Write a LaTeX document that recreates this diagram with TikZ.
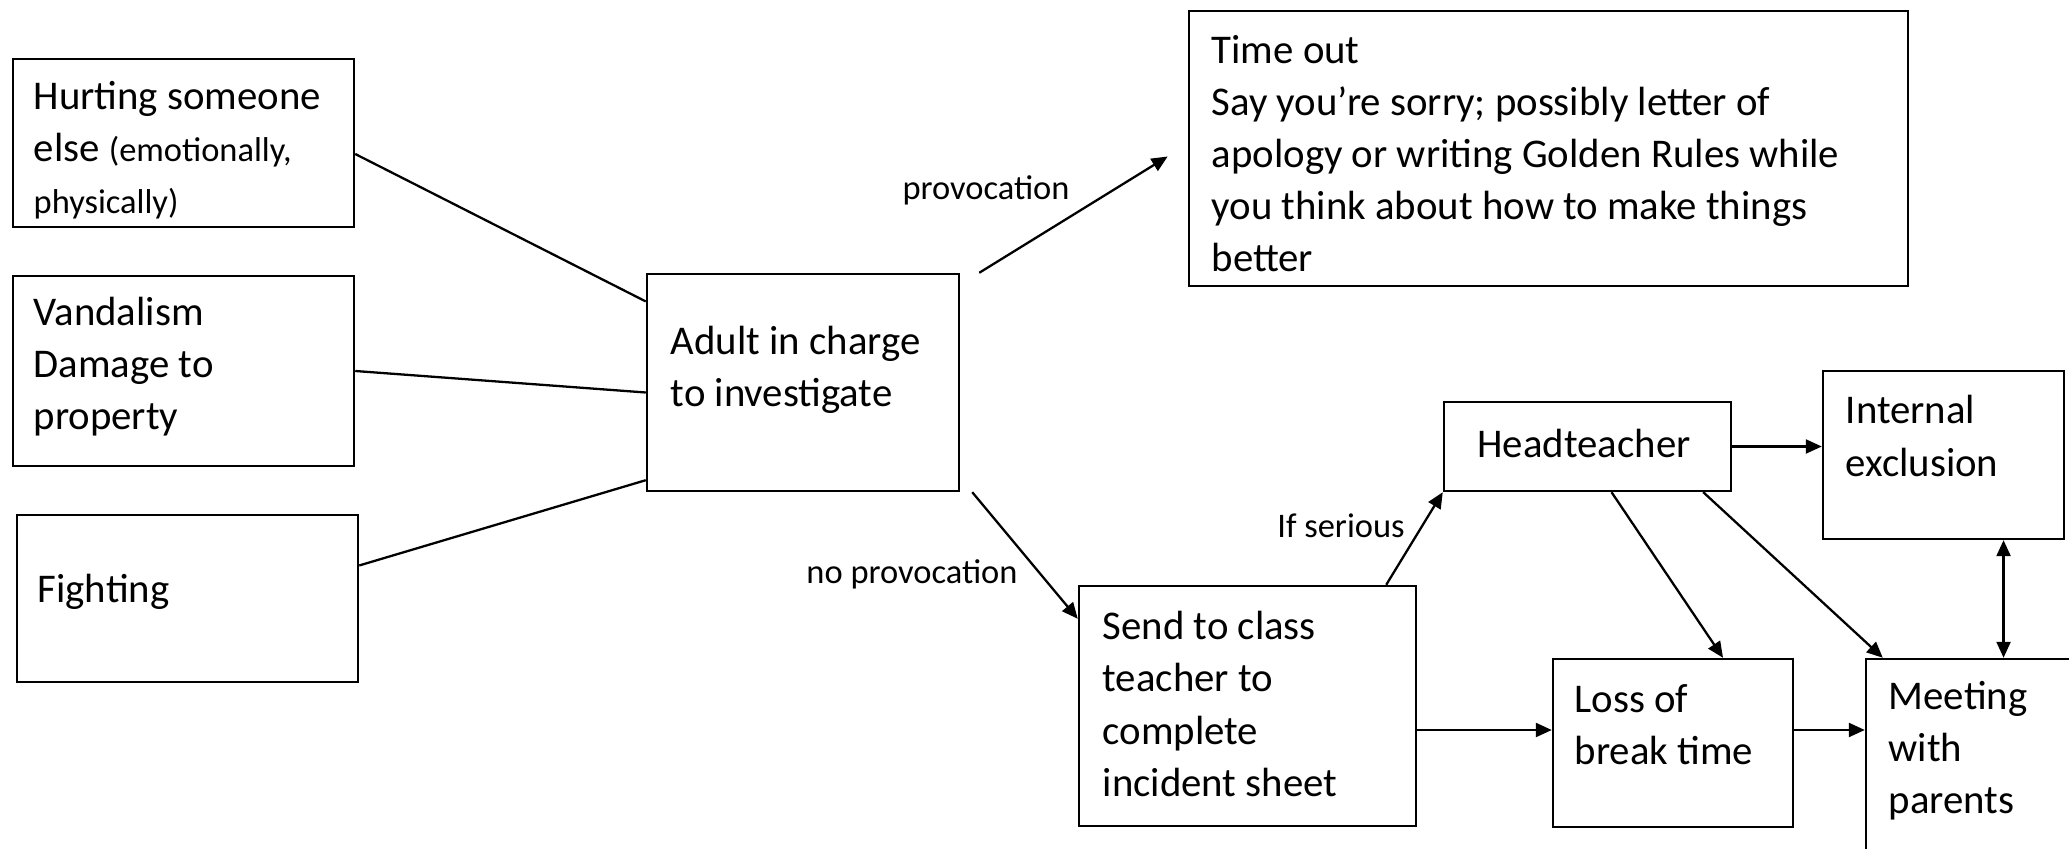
\documentclass[tikz,border=0pt]{standalone}
\usepackage{fontspec}
\setmainfont{Carlito}
\usetikzlibrary{arrows.meta}

\tikzset{
  box/.style={draw, line width=0.65pt, inner sep=0pt},
  txt/.style={align=left, inner sep=0pt, anchor=west, font=\fontsize{11.6}{14.8}\selectfont},
  lbl/.style={inner sep=0pt, font=\fontsize{9.8}{12}\selectfont},
  link/.style={line width=0.65pt},
  arr/.style={line width=0.65pt, -{Triangle[length=0.16cm, width=0.14cm]}},
  arrboth/.style={line width=0.65pt, {Triangle[length=0.16cm, width=0.14cm]}-{Triangle[length=0.16cm, width=0.14cm]}}
}
\newcommand{\smalltxt}[1]{{\fontsize{9.8}{14.8}\selectfont #1}}

\begin{document}
\begin{tikzpicture}[x=0.01cm, y=-0.01cm]
    \useasboundingbox (0,0) rectangle (2069,849);
    \clip (0,0) rectangle (2069,849);

    % Cadres
    \node[box, minimum width=3.41cm, minimum height=1.68cm] (hurt) at (183.5,143) {};
    \node[box, minimum width=3.41cm, minimum height=1.90cm] (vand) at (183.5,371) {};
    \node[box, minimum width=3.41cm, minimum height=1.67cm] (fight) at (187.5,598.5) {};
    \node[box, minimum width=3.12cm, minimum height=2.17cm] (adult) at (803,382.5) {};
    \node[box, minimum width=7.19cm, minimum height=2.75cm] (timeout) at (1548.5,148.5) {};
    \node[box, minimum width=2.87cm, minimum height=0.89cm] (head) at (1587.5,446.5) {};
    \node[box, minimum width=2.41cm, minimum height=1.68cm] (intern) at (1943.5,455) {};
    \node[box, minimum width=3.37cm, minimum height=2.40cm] (send) at (1247.5,706) {};
    \node[box, minimum width=2.40cm, minimum height=1.68cm] (loss) at (1673,743) {};
    \node[box, minimum width=2.40cm, minimum height=2.41cm] (meet) at (1986,779.5) {};

    % Textes
    \node[txt] (hurt-t) at (33,150) {Hurting someone\\else \smalltxt{(emotionally,}\\\smalltxt{physically)}};
    \node[txt] (vand-t) at (33,367) {Vandalism\\Damage to\\property};
    \node[txt] (fight-t) at (37,592) {Fighting};
    \node[txt] (adult-t) at (670,370) {Adult in charge\\to investigate};
    \node[txt] (timeout-t) at (1211,154) {Time out\\Say you’re sorry; possibly letter of\\apology or writing Golden Rules while\\you think about how to make things\\better};
    \node[txt, anchor=center] (head-t) at (1584,443) {Headteacher};
    \node[txt] (intern-t) at (1845,436) {Internal\\exclusion};
    \node[txt] (send-t) at (1102,704) {Send to class\\teacher to\\complete\\incident sheet};
    \node[txt] (loss-t) at (1574,725) {Loss of\\break time};
    \node[txt] (meet-t) at (1888,751) {Meeting\\with\\parents};

    % Etiquettes
    \node[lbl] (prov) at (986,190) {provocation};
    \node[lbl] (noprov) at (912,574) {no provocation};
    \node[lbl] (serious) at (1341,526) {If serious};

    % Liaisons
    \draw[link] ([yshift=-0.11cm]hurt.east) -- ([yshift=0.81cm]adult.west);
    \draw[link] (vand.east) -- ([yshift=-0.10cm]adult.west);
    \draw[link] ([yshift=0.33cm]fight.east) -- ([yshift=0.12cm]adult.south west);
    \draw[arr] ([xshift=0.19cm]adult.north east) -- ([xshift=-0.2cm,yshift=-0.08cm]timeout.west);
    \draw[arr] ([xshift=0.12cm]adult.south east) -- ([yshift=-0.34cm]send.north west);
    \draw[arr] ([xshift=-0.31cm]send.north east) -- (head.south west);
    \draw[arr] (head.east) -- (head.east -| intern.west);
    \draw[arr] ([xshift=0.24cm]head.south) -- ([xshift=0.5cm]loss.north);
    \draw[arr] ([xshift=-0.29cm]head.south east) -- ([xshift=0.18cm]meet.north west);
    \coordinate (ie) at ([xshift=0.6cm]intern.south);
    \draw[arrboth] (ie) -- (ie |- meet.north);
    \coordinate (sl) at ([yshift=-0.24cm]send.east);
    \draw[arr] (sl) -- (sl -| loss.west);
    \coordinate (lm) at ([yshift=0.13cm]loss.east);
    \draw[arr] (lm) -- (lm -| meet.west);
\end{tikzpicture}
\end{document}
